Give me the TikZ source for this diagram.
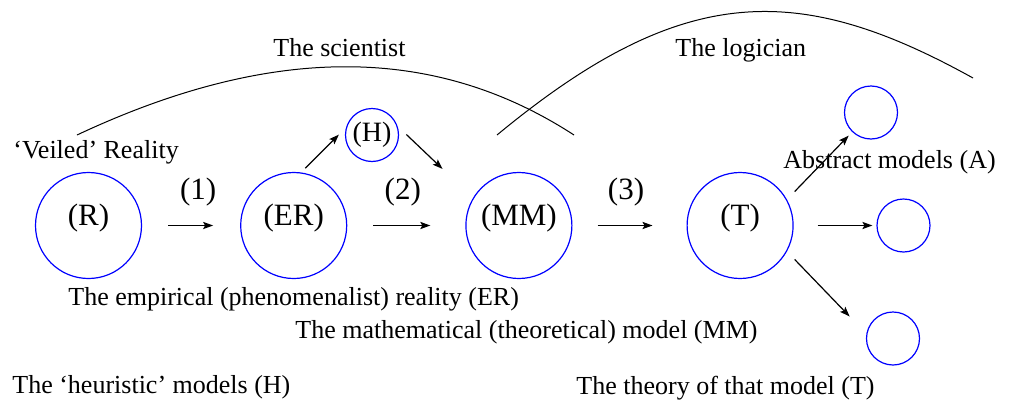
\documentclass[tikz,border=0pt]{standalone}
\usepackage{fontspec}
\setmainfont{Liberation Serif}
\usetikzlibrary{positioning,arrows.meta}

\begin{document}
\begin{tikzpicture}[
  x=0.5pt, y=-0.5pt,
  font=\fontsize{13}{15.6}\selectfont,
  bigc/.style={circle, draw=blue, line width=0.6pt, minimum size=53pt,
               inner sep=0pt, text height=1ex, text depth=1ex,
               font=\fontsize{15.5}{18}\selectfont},
  smallc/.style={circle, draw=blue, line width=0.6pt, minimum size=26.5pt,
                 inner sep=0pt, font=\fontsize{14}{17}\selectfont},
  txt/.style={anchor=base west, inner sep=0pt},
  num/.style={inner sep=0pt, font=\fontsize{15.5}{18}\selectfont},
  arr/.style={->, line width=0.6pt},
  curve/.style={line width=0.5pt},
  >={Stealth[length=5pt, width=3.6pt, inset=1pt]}
]
\useasboundingbox (0,0) rectangle (1018,402);

% main chain
\node[bigc] (r) at (88.5,225.5) {(R)};
\node[bigc, right=49pt of r]   (er) {(ER)};
\node[bigc, right=59pt of er]  (mm) {(MM)};
\node[bigc, right=57pt of mm]  (t)  {(T)};

% small circles
\node[smallc] (h)  at (372,135)   {(H)};
\node[smallc] (a1) at (871,112.5) {};
\node[smallc] (a2) at (903.5,225.5) {};
\node[smallc] (a3) at (893,338.5) {};

% arcs
\coordinate (sci-l) at (77,135);
\coordinate (sci-r) at (574,135);
\coordinate (log-l) at (497,135);
\coordinate (log-r) at (973,78);
\draw[curve] (sci-l) .. controls (271,44) and (434,44) .. (sci-r);
\draw[curve] (log-l) .. controls (682,-18) and (798,-19) .. (log-r);

% labels
\node[txt] (scientist)    at (273,56.5) {The scientist};
\node[txt] (logician)     at (675,56)   {The logician};
\node[txt] (veiled)       at (13,158)   {‘Veiled’ Reality};
\node[txt] (abstract)     at (783,168)  {Abstract models (A)};
\node[txt] (empirical)    at (68,305)   {The empirical (phenomenalist) reality (ER)};
\node[txt] (mathematical) at (295,338)  {The mathematical (theoretical) model (MM)};
\node[txt] (heuristic)    at (12,393)   {The ‘heuristic’ models (H)};
\node[txt] (theory)       at (576,394)  {The theory of that model (T)};

% edges
\draw[arr, shorten <=13pt, shorten >=13.5pt] (r) -- node[num, above=9.5pt, xshift=3.5pt] (n1) {(1)} (er);
\draw[arr, shorten <=13pt, shorten >=17.5pt] (er) -- node[num, above=9.5pt, xshift=-1.75pt] (n2) {(2)} (mm);
\draw[arr, shorten <=12.5pt, shorten >=17pt] (mm) -- node[num, above=9.5pt, xshift=-1.75pt] (n3) {(3)} (t);
\draw[arr, shorten <=3pt, shorten >=5pt] (er.82) -- (h.164);
\draw[arr, shorten <=6pt, shorten >=21pt] (h.19) -- (mm.149);
\draw[arr, shorten <=5.5pt, shorten >=2.5pt] (t.29) -- (a1.226);
\draw[arr, shorten <=12pt, shorten >=2pt] (t) -- (a2);
\draw[arr, shorten <=5.5pt, shorten >=12pt] (t.-29) -- (a3.170);
\end{tikzpicture}
\end{document}
